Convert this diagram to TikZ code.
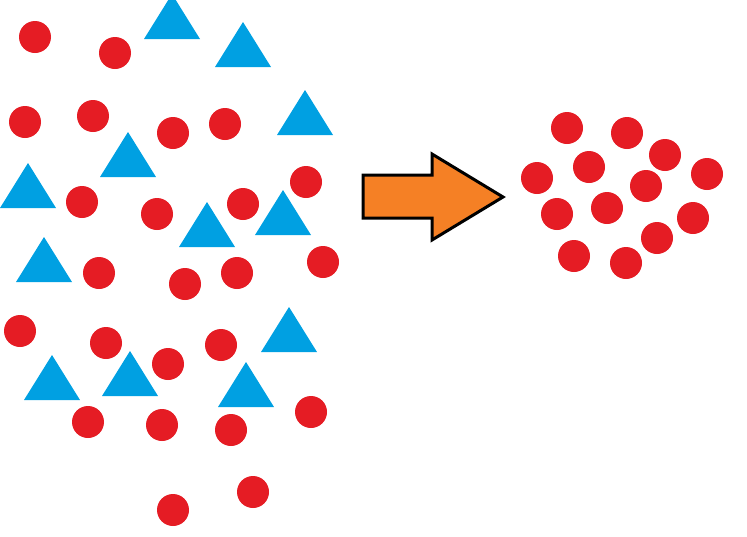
\documentclass[tikz,border=0pt]{standalone}
\begin{document}
\begin{tikzpicture}[x=1pt,y=-1pt,
  dot/.style={fill=reddot},
  tri/.style={fill=bluetri}]
\definecolor{reddot}{RGB}{229,28,36}
\definecolor{bluetri}{RGB}{0,160,226}
\definecolor{orangearrow}{RGB}{245,128,37}
\useasboundingbox (0,0) rectangle (747,536);
\foreach \x/\y in {35/37,115/53,25/122,93/116,173/133,225/124,82/202,157/214,243/204,306/182,99/273,185/284,237/273,323/262,20/331,106/343,168/364,221/345,88/422,162/425,231/430,311/412,173/510,253/492,
567/128,627/133,665/155,707/174,589/167,537/178,646/186,557/214,607/208,693/218,574/256,626/263,657/238}
  \fill[dot] (\x,\y) circle (16);
\foreach \x/\a in {172/-6,243/22,305/90,128/132,28/163,207/202,283/190,44/237,289/307,52/355,130/351,246/362}
  \fill[tri] (\x,\a) -- (\x+28,\a+45) -- (\x-28,\a+45) -- cycle;
\draw[line width=3pt,line join=miter,fill=orangearrow]
  (363,175) -- (432,175) -- (432,154) -- (503,197) -- (432,240) -- (432,218) -- (363,218) -- cycle;
\end{tikzpicture}
\end{document}
